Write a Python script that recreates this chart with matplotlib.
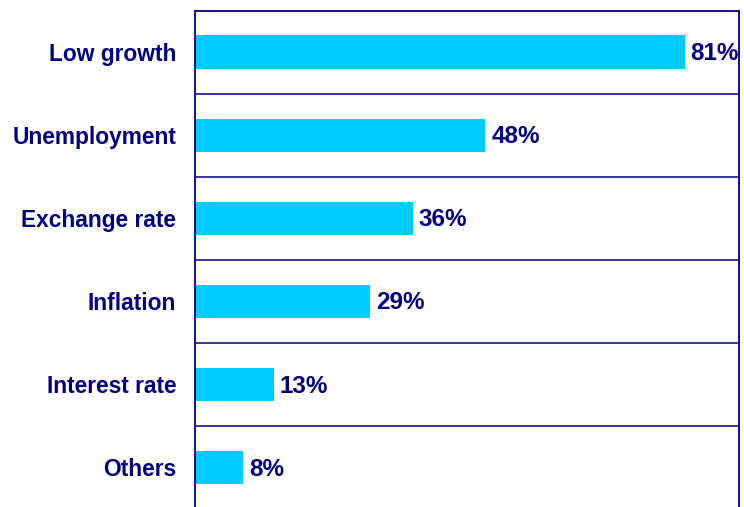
import matplotlib.pyplot as plt
import numpy as np

    # data

categories = ["Low growth", "Unemployment", "Exchange rate", "Inflation", "Interest rate", "Others"]
shares = [81, 48, 36, 29, 13, 8]

NAVY = "#000080"
CYAN = "#00CCFF"

plt.rcParams["font.family"] = ["Liberation Sans", "DejaVu Sans"]

fig = plt.figure(figsize=(7.44, 5.07), dpi=100)
ax = fig.add_axes([195 / 744, -2 / 507, (739 - 195) / 744, (509 - 10.5) / 507])

y = np.arange(len(categories))
ax.barh(y, shares, height=0.4, color=CYAN, zorder=2)
for yi, v in zip(y, shares):
    ax.text(v + 1.0, yi + 0.02, "%d%%" % v, va="center", ha="left",
            fontsize=17.5, fontweight="bold", color=NAVY)

ax.set_xlim(0, 90)
ax.set_ylim(len(categories) - 0.5, -0.5)
ax.set_yticks(y)
ax.set_yticklabels(categories, fontsize=16.4, fontweight="bold", color=NAVY)
ax.tick_params(axis="y", length=0, pad=13.5)
ax.set_xticks([])

# separators between categories
for b in np.arange(0.5, len(categories) - 0.5, 1):
    ax.axhline(b, color=NAVY, lw=1.1, zorder=1)

for side in ["left", "top", "right"]:
    ax.spines[side].set_color(NAVY)
    ax.spines[side].set_linewidth(1.3)
ax.spines["bottom"].set_visible(False)

plt.savefig("out.png", dpi=100)
